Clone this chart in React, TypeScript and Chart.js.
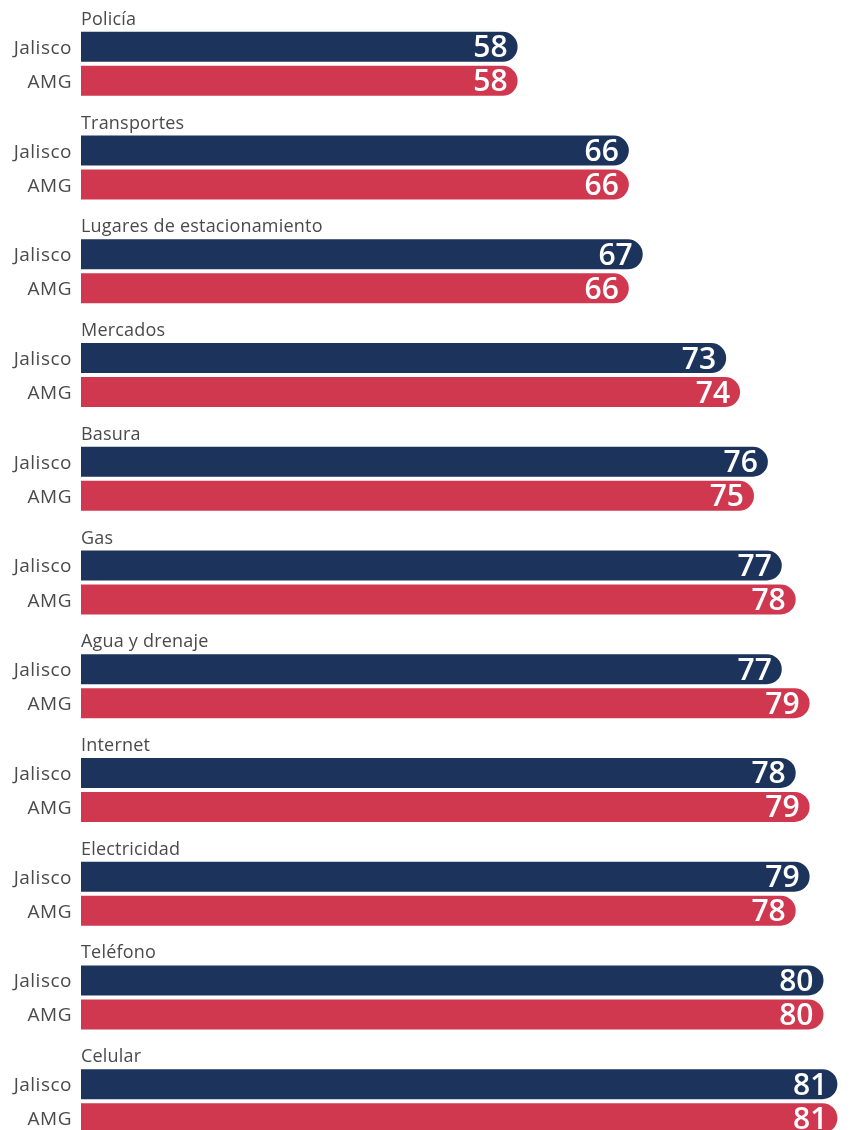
import React, { useEffect, useRef } from "react";
import { Chart, registerables } from "chart.js";

Chart.register(...registerables);

const categories = [
  "Policía",
  "Transportes",
  "Lugares de estacionamiento",
  "Mercados",
  "Basura",
  "Gas",
  "Agua y drenaje",
  "Internet",
  "Electricidad",
  "Teléfono",
  "Celular",
];
const seriesNames = ["Jalisco", "AMG"];
const jaliscoValues = [58, 66, 67, 73, 76, 77, 77, 78, 79, 80, 81];
const amgValues = [58, 66, 66, 74, 75, 78, 79, 79, 78, 80, 81];
const seriesColors = ["#1c345c", "#d03850"];

const FONT = "'Open Sans', 'Noto Sans', sans-serif";
const TEXT_GRAY = "#4a4a4a";

const labelPlugin = {
  id: "customLabels",
  afterDatasetsDraw(chart: any) {
    const { ctx, chartArea } = chart;
    ctx.save();
    chart.data.datasets.forEach((ds: any, di: number) => {
      const meta = chart.getDatasetMeta(di);
      meta.data.forEach((el: any, i: number) => {
        const h = el.height;
        // value label inside the bar end
        ctx.letterSpacing = "0px";
        ctx.font = `600 30px ${FONT}`;
        ctx.fillStyle = "#ffffff";
        ctx.textAlign = "right";
        ctx.textBaseline = "alphabetic";
        ctx.fillText(String(ds.data[i]), el.x - 10, el.y + 10.5);
        // series label to the left
        ctx.letterSpacing = "0.5px";
        ctx.font = `400 19px ${FONT}`;
        ctx.fillStyle = TEXT_GRAY;
        ctx.textAlign = "right";
        ctx.fillText(ds.label, chartArea.left - 9, el.y + 7);
        // category title above first bar
        if (di === 0) {
          ctx.letterSpacing = "0.2px";
          ctx.font = `400 18px ${FONT}`;
          ctx.textAlign = "left";
          ctx.fillText(chart.data.labels[i], chartArea.left, el.y - h / 2 - 7);
        }
      });
    });
    ctx.restore();
  },
};

export default function App() {
  const ref = useRef<HTMLCanvasElement | null>(null);
  useEffect(() => {
    if (!ref.current) return;
    const chart = new Chart(ref.current, {
      type: "bar",
      data: {
        labels: categories,
        datasets: [
          {
            label: seriesNames[0],
            data: jaliscoValues,
            backgroundColor: seriesColors[0],
          },
          {
            label: seriesNames[1],
            data: amgValues,
            backgroundColor: seriesColors[1],
          },
        ],
      },
      options: {
        indexAxis: "y",
        responsive: false,
        animation: false,
        maintainAspectRatio: false,
        layout: { padding: { top: 4, left: 73, right: 0, bottom: 0 } },
        datasets: {
          bar: {
            categoryPercentage: 0.6556,
            barPercentage: 0.882,
            borderRadius: 15,
            borderSkipped: "start",
            borderWidth: 0,
          },
        },
        scales: {
          x: { display: false, min: 26.6, max: 83.2, grid: { display: false } },
          y: { display: false, grid: { display: false } },
        },
        plugins: {
          legend: { display: false },
          tooltip: { enabled: false },
        },
      } as any,
      plugins: [labelPlugin],
    });
    return () => chart.destroy();
  }, []);
  return (
    <div style={{ width: 843, height: 1122, overflow: "hidden", position: "relative" }}>
      <canvas ref={ref} width={860} height={1145} style={{ display: "block", width: 860, height: 1145 }} />
    </div>
  );
}
